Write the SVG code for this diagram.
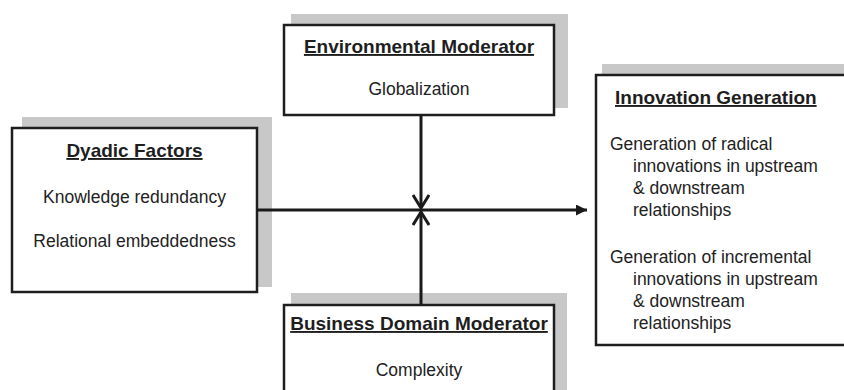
<svg xmlns="http://www.w3.org/2000/svg" width="844" height="390" viewBox="0 0 844 390">
<style>
.shadow{fill:#c8c8c8}
.box{fill:#fff;stroke:#1e1e1e;stroke-width:2.5}
.title{font-family:"Liberation Sans",Arial,sans-serif;font-size:19px;font-weight:bold;fill:#1e1e1e;text-decoration:underline}
.body{font-family:"Liberation Sans",Arial,sans-serif;font-size:17.5px;fill:#222}
.mid{text-anchor:middle}
.conn{stroke:#1a1a1a;stroke-width:3;fill:none}
</style>
<defs>
<marker id="tri" viewBox="0 0 10 10" refX="10" refY="5" markerWidth="11" markerHeight="11" markerUnits="userSpaceOnUse" orient="auto">
<path d="M0,0 L10,5 L0,10 Z" fill="#1a1a1a"/>
</marker>
<marker id="chev" viewBox="0 0 16 18" refX="14" refY="9" markerWidth="16" markerHeight="18" markerUnits="userSpaceOnUse" orient="auto">
<path d="M1,1 L14,9 L1,17" fill="none" stroke="#1a1a1a" stroke-width="3"/>
</marker>
</defs>
<g id="environmental-moderator">
<rect class="shadow" x="291" y="14" width="277" height="94"/>
<rect class="box" x="284" y="25" width="270" height="90"/>
<text class="title mid" x="419" y="53">Environmental Moderator</text>
<text class="body mid" x="419" y="95">Globalization</text>
</g>
<g id="dyadic-factors">
<rect class="shadow" x="22" y="117" width="250" height="170"/>
<rect class="box" x="12" y="128" width="245" height="164"/>
<text class="title mid" x="134.5" y="157">Dyadic Factors</text>
<text class="body mid" x="134.5" y="203">Knowledge redundancy</text>
<text class="body mid" x="134.5" y="247">Relational embeddedness</text>
</g>
<g id="business-domain-moderator">
<rect class="shadow" x="291" y="293" width="276" height="100"/>
<rect class="box" x="284" y="305" width="270" height="100"/>
<text class="title mid" x="419" y="330">Business Domain Moderator</text>
<text class="body mid" x="419" y="376">Complexity</text>
</g>
<g id="innovation-generation">
<rect class="shadow" x="602" y="64" width="250" height="270"/>
<rect class="box" x="596" y="75" width="260" height="270"/>
<text class="title" x="615" y="104">Innovation Generation</text>
<text class="body" x="610" y="150">Generation of radical</text>
<text class="body" x="633" y="172">innovations in upstream</text>
<text class="body" x="633" y="194">&amp; downstream</text>
<text class="body" x="633" y="216">relationships</text>
<text class="body" x="610" y="263">Generation of incremental</text>
<text class="body" x="633" y="285">innovations in upstream</text>
<text class="body" x="633" y="307">&amp; downstream</text>
<text class="body" x="633" y="329">relationships</text>
</g>
<g id="connectors">
<line class="conn" x1="257" y1="210" x2="587" y2="210" marker-end="url(#tri)"/>
<line class="conn" x1="421" y1="115" x2="421" y2="208" marker-end="url(#chev)"/>
<line class="conn" x1="421" y1="305" x2="421" y2="212" marker-end="url(#chev)"/>
</g>
</svg>
